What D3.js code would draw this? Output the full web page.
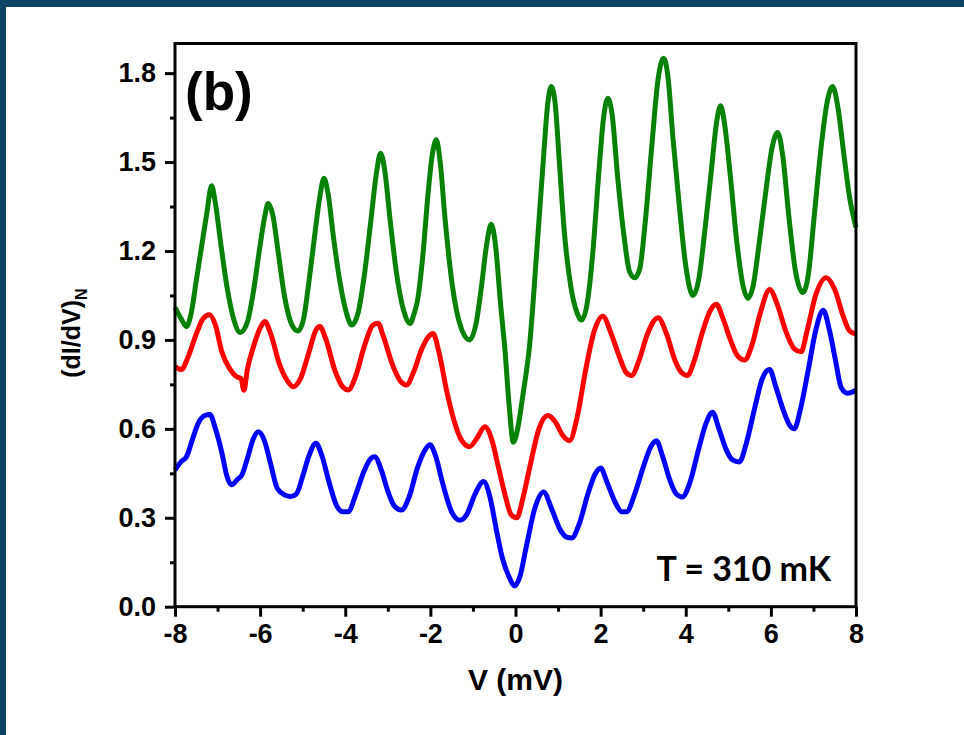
<!DOCTYPE html>
<html>
<head>
<meta charset="utf-8">
<script src="https://cdn.jsdelivr.net/npm/d3@7"></script>
<style>
  body { margin: 0; background: #fff; }
  svg { display: block; font-family: "Liberation Sans", Arial, sans-serif; }
</style>
</head>
<body>
<svg width="964" height="735"></svg>
<script>
'use strict';

// dI/dV curves as [V (mV), (dI/dV)_N]
const greenPts = [
  [-8.00,1.01],[-7.85,0.97],[-7.73,0.945],[-7.62,0.99],[-7.50,1.10],[-7.37,1.22],[-7.25,1.33],[-7.14,1.42],
  [-7.05,1.36],[-6.92,1.22],[-6.78,1.08],[-6.62,0.97],[-6.47,0.925],[-6.30,0.96],[-6.15,1.07],[-6.02,1.20],
  [-5.90,1.31],[-5.81,1.36],[-5.70,1.32],[-5.57,1.19],[-5.43,1.05],[-5.25,0.95],[-5.11,0.93],[-4.98,0.97],
  [-4.85,1.10],[-4.72,1.25],[-4.60,1.38],[-4.50,1.445],[-4.40,1.39],[-4.28,1.25],[-4.13,1.10],[-3.97,0.99],
  [-3.85,0.95],[-3.70,0.99],[-3.55,1.12],[-3.40,1.30],[-3.27,1.46],[-3.17,1.53],[-3.07,1.47],[-2.95,1.31],
  [-2.80,1.13],[-2.63,1.00],[-2.48,0.955],[-2.38,0.99],[-2.30,1.035],[-2.18,1.18],[-2.05,1.40],[-1.95,1.53],
  [-1.86,1.575],[-1.77,1.50],[-1.65,1.30],[-1.48,1.08],[-1.30,0.95],[-1.08,0.90],[-0.92,0.96],[-0.80,1.08],
  [-0.68,1.22],[-0.57,1.29],[-0.47,1.22],[-0.35,1.02],[-0.25,0.87],[-0.15,0.68],[-0.05,0.555],[0.05,0.60],
  [0.18,0.72],[0.33,0.88],[0.50,1.20],[0.65,1.50],[0.76,1.70],[0.84,1.755],[0.93,1.70],[1.03,1.50],
  [1.15,1.26],[1.30,1.08],[1.45,0.99],[1.55,0.967],[1.68,1.02],[1.82,1.20],[1.95,1.45],[2.07,1.65],
  [2.17,1.715],[2.27,1.66],[2.40,1.45],[2.55,1.25],[2.68,1.13],[2.80,1.11],[2.92,1.14],[3.05,1.30],
  [3.20,1.55],[3.35,1.78],[3.48,1.85],[3.58,1.79],[3.70,1.58],[3.85,1.35],[4.00,1.15],[4.17,1.05],
  [4.30,1.10],[4.45,1.27],[4.60,1.47],[4.73,1.64],[4.82,1.69],[4.92,1.62],[5.05,1.45],[5.20,1.23],
  [5.35,1.08],[5.46,1.04],[5.58,1.08],[5.72,1.22],[5.88,1.40],[6.03,1.55],[6.16,1.60],[6.28,1.52],
  [6.42,1.32],[6.58,1.13],[6.75,1.06],[6.88,1.12],[7.02,1.32],[7.18,1.55],[7.32,1.70],[7.45,1.755],
  [7.58,1.68],[7.72,1.52],[7.85,1.38],[8.00,1.28]
];

const redPts = [
  [-8.00,0.81],[-7.85,0.80],[-7.70,0.84],[-7.50,0.92],[-7.35,0.97],[-7.19,0.985],[-7.05,0.95],[-6.90,0.86],
  [-6.70,0.80],[-6.55,0.776],[-6.45,0.77],[-6.38,0.73],[-6.30,0.80],[-6.15,0.88],[-6.00,0.94],[-5.89,0.962],
  [-5.75,0.92],[-5.55,0.82],[-5.35,0.76],[-5.22,0.742],[-5.05,0.77],[-4.85,0.86],[-4.70,0.93],[-4.60,0.945],
  [-4.45,0.90],[-4.25,0.80],[-4.05,0.74],[-3.93,0.731],[-3.75,0.78],[-3.55,0.88],[-3.35,0.95],[-3.23,0.956],
  [-3.10,0.91],[-2.90,0.82],[-2.70,0.76],[-2.56,0.748],[-2.40,0.79],[-2.20,0.87],[-2.05,0.91],[-1.94,0.922],
  [-1.80,0.86],[-1.62,0.73],[-1.47,0.641],[-1.30,0.57],[-1.08,0.54],[-0.90,0.57],[-0.72,0.607],[-0.55,0.56],
  [-0.40,0.47],[-0.25,0.38],[-0.10,0.31],[0.03,0.30],[0.18,0.37],[0.35,0.48],[0.55,0.60],[0.76,0.645],
  [0.95,0.62],[1.10,0.58],[1.27,0.56],[1.45,0.64],[1.65,0.80],[1.85,0.93],[2.05,0.98],[2.25,0.92],
  [2.45,0.84],[2.60,0.79],[2.73,0.78],[2.90,0.83],[3.10,0.92],[3.35,0.975],[3.55,0.92],[3.75,0.83],
  [3.90,0.79],[4.04,0.78],[4.20,0.83],[4.40,0.93],[4.58,1.00],[4.72,1.02],[4.88,0.97],[5.05,0.90],
  [5.20,0.85],[5.38,0.832],[5.55,0.88],[5.75,0.99],[5.97,1.07],[6.15,1.02],[6.35,0.93],[6.55,0.87],
  [6.71,0.86],[6.85,0.93],[7.05,1.05],[7.30,1.11],[7.50,1.07],[7.70,0.98],[7.85,0.93],[8.00,0.92]
];

const bluePts = [
  [-8.00,0.461],[-7.85,0.49],[-7.73,0.506],[-7.60,0.56],[-7.45,0.62],[-7.30,0.645],[-7.18,0.648],[-7.05,0.60],
  [-6.90,0.52],[-6.78,0.44],[-6.67,0.411],[-6.53,0.43],[-6.43,0.444],[-6.30,0.50],[-6.15,0.57],[-6.04,0.590],
  [-5.90,0.56],[-5.75,0.48],[-5.60,0.40],[-5.42,0.377],[-5.28,0.372],[-5.15,0.38],[-5.00,0.44],[-4.85,0.51],
  [-4.69,0.551],[-4.55,0.51],[-4.38,0.42],[-4.20,0.34],[-4.05,0.32],[-3.93,0.32],[-3.75,0.38],[-3.55,0.46],
  [-3.40,0.50],[-3.31,0.506],[-3.15,0.46],[-3.00,0.39],[-2.85,0.34],[-2.68,0.326],[-2.50,0.37],[-2.30,0.47],
  [-2.12,0.53],[-2.01,0.546],[-1.88,0.51],[-1.70,0.41],[-1.50,0.32],[-1.31,0.292],[-1.15,0.31],[-0.95,0.38],
  [-0.75,0.422],[-0.60,0.37],[-0.45,0.26],[-0.30,0.16],[-0.15,0.10],[-0.02,0.07],[0.10,0.10],[0.25,0.20],
  [0.45,0.33],[0.66,0.387],[0.85,0.33],[1.05,0.26],[1.20,0.235],[1.32,0.232],[1.50,0.28],[1.70,0.38],
  [1.88,0.45],[2.00,0.468],[2.15,0.42],[2.35,0.35],[2.50,0.32],[2.61,0.32],[2.80,0.38],[3.00,0.47],
  [3.18,0.54],[3.31,0.56],[3.45,0.51],[3.62,0.43],[3.78,0.38],[3.92,0.37],[4.10,0.42],[4.30,0.53],
  [4.48,0.62],[4.63,0.656],[4.78,0.60],[4.95,0.53],[5.10,0.495],[5.26,0.488],[5.42,0.55],[5.62,0.67],
  [5.80,0.77],[5.97,0.80],[6.12,0.74],[6.30,0.66],[6.45,0.61],[6.55,0.60],[6.70,0.67],[6.88,0.80],
  [7.05,0.93],[7.23,1.00],[7.38,0.93],[7.52,0.83],[7.65,0.74],[7.80,0.72],[8.00,0.73]
];

const xTicks = [-8, -6, -4, -2, 0, 2, 4, 6, 8];
const xMinor = [-7, -5, -3, -1, 1, 3, 5, 7];
const yTicks = [0, 0.3, 0.6, 0.9, 1.2, 1.5, 1.8];
const yMinor = [0.15, 0.45, 0.75, 1.05, 1.35, 1.65];

const svg = d3.select('svg');
const width = +svg.attr('width');
const height = +svg.attr('height');

// dark slide frame along top and left edges
svg.append('rect').attr('x', 0).attr('y', 0).attr('width', width).attr('height', 7).attr('fill', '#0b4464');
svg.append('rect').attr('x', 0).attr('y', 0).attr('width', 6).attr('height', height).attr('fill', '#0b4464');

const x = d3.scaleLinear().domain([-8, 8]).range([175, 856]);
const y = d3.scaleLinear().domain([0, 1.9]).range([606.7, 43.5]);

const line = d3.line()
    .x(d => x(d[0]))
    .y(d => y(d[1]))
    .curve(d3.curveMonotoneX);

const series = [
  { pts: bluePts, color: '#0000ff' },
  { pts: redPts, color: '#ff0000' },
  { pts: greenPts, color: '#078207' }
];

svg.selectAll('path.curve')
    .data(series)
    .enter()
    .append('path')
        .attr('class', 'curve')
        .attr('d', d => line(d.pts))
        .attr('fill', 'none')
        .attr('stroke', d => d.color)
        .attr('stroke-width', 5)
        .attr('stroke-linejoin', 'round');

// plot frame
svg.append('rect')
    .attr('x', x(-8)).attr('y', y(1.9))
    .attr('width', x(8) - x(-8)).attr('height', y(0) - y(1.9))
    .attr('fill', 'none').attr('stroke', '#000').attr('stroke-width', 3);

// axes
const xAxis = svg.append('g')
    .attr('transform', `translate(0, ${y(0)})`)
    .call(d3.axisBottom(x).tickValues(xTicks).tickSize(10).tickPadding(7).tickFormat(d3.format('d')));
svg.append('g')
    .attr('transform', `translate(0, ${y(0)})`)
    .call(d3.axisBottom(x).tickValues(xMinor).tickSize(5).tickFormat(''));

const yAxis = svg.append('g')
    .attr('transform', `translate(${x(-8)}, 0)`)
    .call(d3.axisLeft(y).tickValues(yTicks).tickSize(10).tickPadding(9).tickFormat(d3.format('.1f')));
svg.append('g')
    .attr('transform', `translate(${x(-8)}, 0)`)
    .call(d3.axisLeft(y).tickValues(yMinor).tickSize(5).tickFormat(''));

svg.selectAll('.domain').remove();
svg.selectAll('.tick line').attr('stroke', '#000').attr('stroke-width', 3);
svg.selectAll('.tick text')
    .attr('fill', '#000')
    .style('font-weight', 'bold')
    .style('font-family', '"Liberation Sans", Arial, sans-serif');
yAxis.selectAll('.tick text').style('font-size', '27px');
xAxis.selectAll('.tick text').style('font-size', '27px');

// minus sign as a plain hyphen, like the original
xAxis.selectAll('.tick text').text(d => d < 0 ? '-' + Math.abs(d) : d);

// axis titles
svg.append('text')
    .attr('x', (x(-8) + x(8)) / 2).attr('y', 690)
    .attr('text-anchor', 'middle')
    .style('font-size', '30px').style('font-weight', 'bold')
    .text('V (mV)');

const ylab = svg.append('text')
    .attr('transform', `translate(80, ${(y(0) + y(1.9)) / 2 + 8}) rotate(-90)`)
    .attr('text-anchor', 'middle')
    .style('font-size', '25px').style('font-weight', 'bold');
ylab.append('tspan').text('(dI/dV)');
ylab.append('tspan').attr('dy', 7).style('font-size', '16px').text('N');

// panel label and temperature
svg.append('text')
    .attr('x', 185).attr('y', 110)
    .style('font-size', '53px').style('font-weight', 'bold')
    .text('(b)');

svg.append('text')
    .attr('x', 831).attr('y', 581)
    .attr('text-anchor', 'end')
    .style('font-size', '34px').style('font-weight', 'bold')
    .style('font-family', 'Lato, "Liberation Sans", sans-serif')
    .text('T = 310 mK');
</script>
</body>
</html>
